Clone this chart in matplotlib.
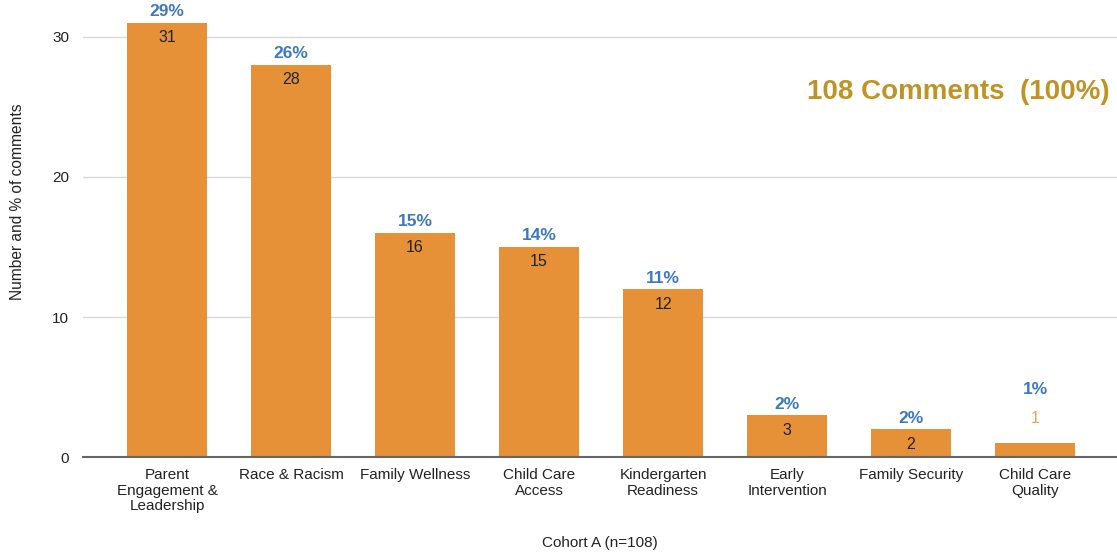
import matplotlib.pyplot as plt

# data
categories = ['Parent\nEngagement &\nLeadership', 'Race & Racism', 'Family Wellness',
              'Child Care\nAccess', 'Kindergarten\nReadiness', 'Early\nIntervention',
              'Family Security', 'Child Care\nQuality']
counts = [31, 28, 16, 15, 12, 3, 2, 1]
percents = ['29%', '26%', '15%', '14%', '11%', '2%', '2%', '1%']

BAR = '#E69138'
BLUE = '#3D78C0'
GOLD = '#BF9426'

plt.rcParams['font.family'] = ['Liberation Sans', 'DejaVu Sans']

fig = plt.figure(figsize=(11.17, 5.56), dpi=100)
ax = fig.add_axes([0.0743, 0.178, 0.9257, 0.822])

x = list(range(len(categories)))
bars = ax.bar(x, counts, width=0.645, color=BAR, zorder=3)

for i, (c, p) in enumerate(zip(counts, percents)):
    if c >= 2:
        ax.annotate(str(c), (i, c), xytext=(0, -15), textcoords='offset pixels',
                    ha='center', va='center', fontsize=11.5, color='#222222', zorder=4)
        ax.annotate(p, (i, c), xytext=(0, 11), textcoords='offset pixels',
                    ha='center', va='center', fontsize=12.5, color=BLUE,
                    fontweight='bold', zorder=4)
    else:
        ax.annotate(str(c), (i, c), xytext=(0, 25), textcoords='offset pixels',
                    ha='center', va='center', fontsize=11.5, color='#F0A050', zorder=4)
        ax.annotate(p, (i, c), xytext=(0, 54), textcoords='offset pixels',
                    ha='center', va='center', fontsize=12.5, color=BLUE,
                    fontweight='bold', zorder=4)

ax.set_xlim(-0.677, 7.66)
ax.set_ylim(0, 32.64)
ax.set_yticks([0, 10, 20, 30])
ax.yaxis.grid(True, color='#d9d9d9', linewidth=1, zorder=0)
ax.set_xticks(x)
ax.set_xticklabels(categories, fontsize=11, color='#222222', linespacing=1.15)
ax.tick_params(axis='y', labelsize=11, labelcolor='#222222', length=0, pad=10)
ax.tick_params(axis='x', length=0, pad=8)

for s in ['top', 'right', 'left']:
    ax.spines[s].set_visible(False)
ax.spines['bottom'].set_color('#666666')
ax.spines['bottom'].set_linewidth(1.5)
ax.spines['bottom'].set_zorder(5)

fig.text(0.016, 0.638, 'Number and % of comments', rotation=90, ha='center',
         va='center', fontsize=11.2, color='#222222')
fig.text(0.537, 0.024, 'Cohort A (n=108)', ha='center', va='center',
         fontsize=11, color='#222222')

fig.text(0.9935, 0.835, '108 Comments  (100%)', ha='right', va='center',
         fontsize=20, fontweight='bold', color=GOLD)

fig.savefig('out.png', dpi=100)
